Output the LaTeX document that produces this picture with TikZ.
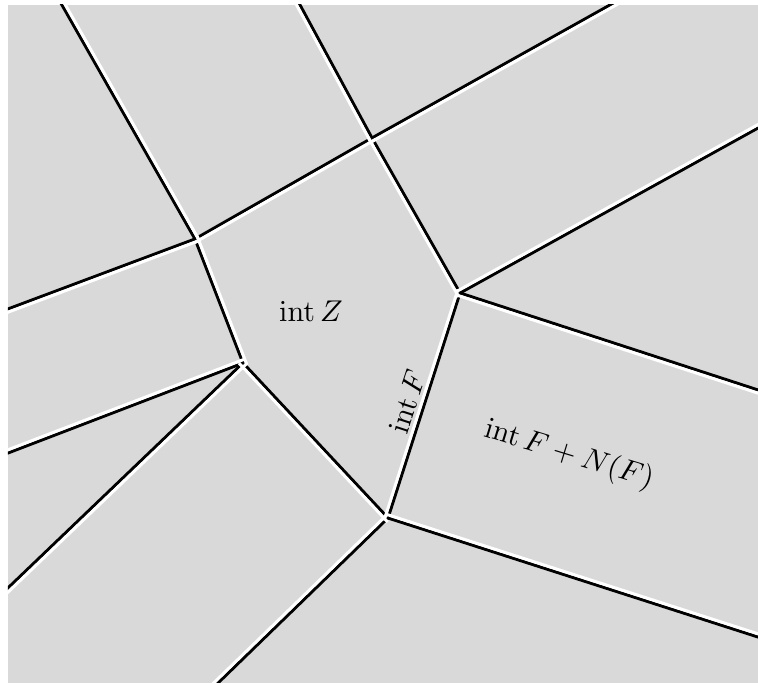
\documentclass[tikz,border=0pt]{standalone}
\usepackage{amsmath,amssymb}
\usepackage{tikz}
\usetikzlibrary{calc}
\definecolor{cFace}{HTML}{D9D9D9}
\tikzset{
  wall/.style ={draw=black,line width=1pt},
  rim/.style  ={draw=white,line width=1pt,shorten <=-0.9pt,shorten >=-0.9pt},
  lbl/.style  ={font=\normalsize,inner sep=1pt},
}

\begin{document}
\begin{tikzpicture}[x=0.333pt,y=-0.333pt]
\useasboundingbox (0,0) rectangle (758,683);
\fill[cFace] (8,5) rectangle (758,683);

% ---- vertices -----------------------------------------------------------
\coordinate (A) at (195,239);
\coordinate (B) at (372,138);
\coordinate (C) at (460,293);
\coordinate (D) at (388,518);
\coordinate (E) at (243,363);

% ---- free ends, pushed past the frame -----------------------------------
\coordinate (r1)  at ($(A)!1.15!(62,5)$);
\coordinate (r2)  at ($(A)!1.15!(8,309)$);
\coordinate (r5)  at ($(B)!1.15!(300,5)$);
\coordinate (r6)  at ($(B)!1.15!(610,5)$);
\coordinate (r8)  at ($(C)!1.15!(758,128)$);
\coordinate (r9)  at ($(C)!1.15!(758,390)$);
\coordinate (r11) at ($(D)!1.15!(758,637)$);
\coordinate (r12) at ($(D)!1.15!(218,683)$);
\coordinate (r14) at ($(E)!1.15!(8,453)$);
\coordinate (r15) at ($(E)!1.15!(8,588)$);

\begin{scope}
\clip (8,5) rectangle (758,683);
\foreach \a/\b in {r1/A,r2/A,A/B,A/E,r5/B,B/r6,B/C,C/r8,C/r9,C/D,D/r11,D/r12,E/D,E/r14,E/r15}
  \draw[wall] (\a) -- (\b);
% white edge on one side of each wall
\foreach \a/\b/\s in {r1/A/90,r2/A/-90,A/B/-90,A/E/90,r5/B/-90,B/r6/-90,B/C/-90,
                      C/r8/90,C/r9/-90,C/D/-90,D/r11/90,D/r12/-90,E/D/-90,
                      E/r14/-90,E/r15/90}
  \draw[rim] ($(\a)!1pt!\s:(\b)$) -- ($(\b)!-1pt!\s:(\a)$);
\end{scope}

% ---- labels -------------------------------------------------------------
\node[lbl] (intZ) at (311,311) {$\operatorname{int} Z$};
\node[lbl,rotate=72] (intF) at (407,402) {$\operatorname{int} F$};
\node[lbl,rotate=-17] (intFN) at (569,455) {$\operatorname{int} F + N(F)$};
\end{tikzpicture}
\end{document}
